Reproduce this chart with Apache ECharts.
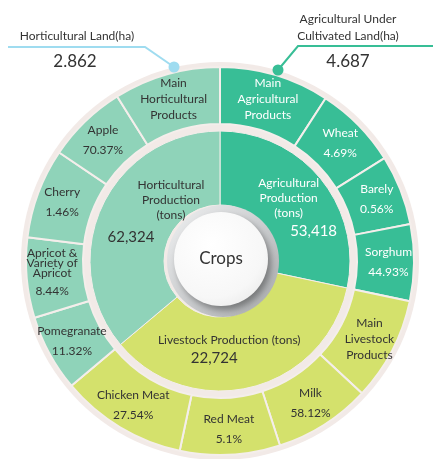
<!DOCTYPE html>
<html>
<head>
<meta charset="utf-8">
<script src="https://cdn.jsdelivr.net/npm/echarts@6/dist/echarts.min.js"></script>
<style>
html,body{margin:0;padding:0;background:#fff;}
#main{width:433px;height:459px;}
</style>
</head>
<body>
<div id="main"></div>
<script>
// ---- data ----
const innerNames = [['Agricultural', 'Production', '(tons)'], ['Livestock Production (tons)'], ['Horticultural', 'Production', '(tons)']];
const innerValues = ['53,418', '22,724', '62,324'];
const innerShares = [102, 128, 130]; // angular share of each sector (degrees) as drawn

const outerNames = [
  ['Main', 'Agricultural', 'Products'], ['Wheat'], ['Barely'], ['Sorghum'],
  ['Main', 'Livestock', 'Products'], ['Milk'], ['Red Meat'], ['Chicken Meat'],
  ['Pomegranate'], ['Apricot &', 'Variety of', 'Apricot'], ['Cherry'], ['Apple'],
  ['Main', 'Horticultural', 'Products']
];
const outerPercents = ['', '4.69%', '0.56%', '44.93%', '', '58.12%', '5.1%', '27.54%', '11.32%', '8.44%', '1.46%', '70.37%', ''];
const outerShares = [33, 25, 21, 23, 31, 29, 30, 38, 23, 24, 27, 24, 32];
const outerGroup = [0, 0, 0, 0, 1, 1, 1, 1, 2, 2, 2, 2, 2];

const landNames = ['Horticultural Land(ha)', 'Agricultural Under\nCultivated Land(ha)'];
const landValues = ['2.862', '4.687'];
const centerTitle = 'Crops';

// ---- styles ----
const groupColors = ['#38be96', '#d4e16c', '#8fd3b9'];
const groupText = ['#ffffff', '#333333', '#333333'];
const FONT = 'Lato, "Open Sans", sans-serif';
const CX = 220, CY = 261;

const innerNumPad = [[0, 0, 0, 50], [0, 30, 0, 0], [0, 80, 0, 0]];
const innerNumLH = [20, 22, 28];
const innerData = innerShares.map((v, i) => ({
  value: v,
  itemStyle: { color: groupColors[i] },
  label: {
    color: groupText[i],
    formatter: innerNames[i].map(s => '{n|' + s + '}').join('\n') + '\n{v|' + innerValues[i] + '}',
    rich: {
      n: { fontSize: 12, lineHeight: 15, color: groupText[i], fontFamily: FONT },
      v: { fontSize: 15, lineHeight: innerNumLH[i], color: groupText[i], fontFamily: FONT, padding: innerNumPad[i] }
    }
  }
}));

const outerData = outerShares.map((v, i) => {
  const g = outerGroup[i];
  const multi = outerNames[i].length > 1;
  const tight = i === 9;
  let f = outerNames[i].map(s => '{' + (tight ? 't' : 'n') + '|' + s + '}').join('\n');
  if (outerPercents[i]) f += '\n{p|' + outerPercents[i] + '}';
  return {
    value: v,
    itemStyle: { color: groupColors[g] },
    label: {
      formatter: f,
      rich: {
        n: { fontSize: 12, lineHeight: multi ? 16 : 20, color: groupText[g], fontFamily: FONT },
        t: { fontSize: 12, lineHeight: 10, color: groupText[g], fontFamily: FONT },
        p: { fontSize: 12, lineHeight: tight ? 26 : 20, color: groupText[g], fontFamily: FONT }
      }
    }
  };
});

const chart = echarts.init(document.getElementById('main'), null, { renderer: 'canvas' });
chart.setOption({
  animation: false,
  backgroundColor: '#ffffff',
  series: [
    {
      type: 'pie', silent: true, center: [CX, CY], radius: [0, 199],
      label: { show: false }, labelLine: { show: false },
      data: [{ value: 1, itemStyle: { color: '#f2eae7' } }]
    },
    {
      type: 'pie', silent: true, center: [CX, CY], radius: [56, 130],
      startAngle: 90, clockwise: true,
      itemStyle: { borderColor: '#f4eeeb', borderWidth: 1 },
      label: { show: true, position: 'inside', rotate: 0, fontFamily: FONT },
      labelLine: { show: false },
      labelLayout: function (p) {
        if (p.dataIndex === 2) return { dx: 38, dy: -6 };
        if (p.dataIndex === 1) return { dx: -14, dy: -3 };
        if (p.dataIndex === 0) return { dx: -6, dy: 8 };
        return {};
      },
      data: innerData
    },
    {
      type: 'pie', silent: true, center: [CX, CY], radius: [137, 194],
      startAngle: 90, clockwise: true,
      itemStyle: { borderColor: '#f4eeeb', borderWidth: 2 },
      label: { show: true, position: 'inside', rotate: 0, fontFamily: FONT },
      labelLine: { show: false },
      data: outerData
    },
    {
      type: 'pie', silent: true, center: [CX + 3, CY], radius: [0, 56],
      label: { show: false }, labelLine: { show: false },
      data: [{
        value: 1, itemStyle: {
          color: new echarts.graphic.LinearGradient(0, 0, 1, 1, [
            { offset: 0, color: '#f0f1f2' }, { offset: 0.55, color: '#c9cbcd' }, { offset: 1, color: '#a5a7a9' }
          ])
        }
      }]
    },
    {
      type: 'pie', silent: true, center: [CX + 1, CY - 2], radius: [0, 47],
      labelLine: { show: false },
      label: { show: true, position: 'center', formatter: centerTitle, fontSize: 17, color: '#333', fontFamily: FONT },
      data: [{
        value: 1, itemStyle: {
          color: new echarts.graphic.RadialGradient(0.4, 0.35, 0.7, [
            { offset: 0, color: '#ffffff' }, { offset: 0.8, color: '#f7f7f7' }, { offset: 1, color: '#eeeeee' }
          ]),
          shadowColor: 'rgba(0,0,0,0.35)', shadowBlur: 6, shadowOffsetX: 3, shadowOffsetY: 4
        }
      }]
    }
  ],
  graphic: [
    { type: 'polyline', silent: true, shape: { points: [[8, 47], [145, 47], [174, 67]] }, style: { stroke: '#9fdcf0', lineWidth: 2, fill: null }, z: 10 },
    { type: 'circle', silent: true, shape: { cx: 174, cy: 67, r: 5.5 }, style: { fill: '#9fdcf0' }, z: 11 },
    { type: 'text', silent: true, x: 77, y: 36, style: { text: landNames[0], font: '12px ' + FONT, fill: '#333', textAlign: 'center', textVerticalAlign: 'middle' }, z: 10 },
    { type: 'text', silent: true, x: 75, y: 62, style: { text: landValues[0], font: '17px ' + FONT, fill: '#333', textAlign: 'center', textVerticalAlign: 'middle' }, z: 10 },
    { type: 'polyline', silent: true, shape: { points: [[433, 46], [298, 46], [278, 70]] }, style: { stroke: '#38be96', lineWidth: 2, fill: null }, z: 10 },
    { type: 'circle', silent: true, shape: { cx: 278, cy: 70, r: 5.5 }, style: { fill: '#38be96' }, z: 11 },
    { type: 'text', silent: true, x: 348, y: 28, style: { text: landNames[1], font: '12px ' + FONT, lineHeight: 17, fill: '#333', textAlign: 'center', textVerticalAlign: 'middle' }, z: 10 },
    { type: 'text', silent: true, x: 348, y: 62, style: { text: landValues[1], font: '17px ' + FONT, fill: '#333', textAlign: 'center', textVerticalAlign: 'middle' }, z: 10 }
  ]
});
</script>
</body>
</html>
